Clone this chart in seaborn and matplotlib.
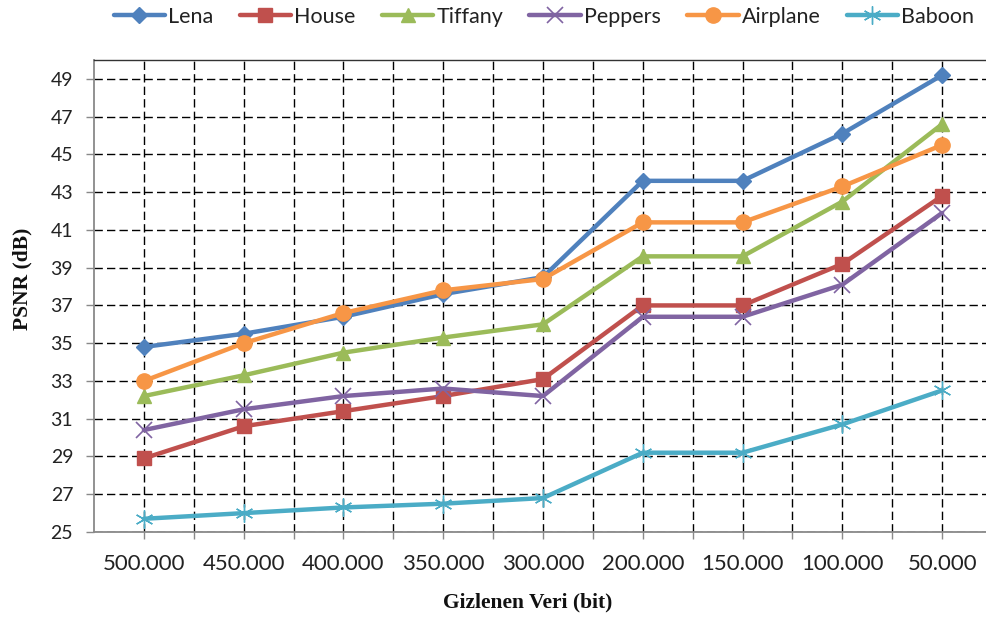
import matplotlib
matplotlib.use("Agg")
import matplotlib.pyplot as plt
import numpy as np
import pandas as pd
import seaborn as sns

# Hidden payload sizes (bits) along the horizontal axis
payload_labels = ["500.000", "450.000", "400.000", "350.000", "300.000",
                  "200.000", "150.000", "100.000", "50.000"]

# PSNR (dB) per test image
lena     = [34.8, 35.5, 36.4, 37.6, 38.5, 43.6, 43.6, 46.1, 49.2]
house    = [28.9, 30.6, 31.4, 32.2, 33.1, 37.0, 37.0, 39.2, 42.8]
tiffany  = [32.2, 33.3, 34.5, 35.3, 36.0, 39.6, 39.6, 42.5, 46.6]
peppers  = [30.4, 31.5, 32.2, 32.6, 32.2, 36.4, 36.4, 38.1, 41.9]
airplane = [33.0, 35.0, 36.6, 37.8, 38.4, 41.4, 41.4, 43.3, 45.5]
baboon   = [25.7, 26.0, 26.3, 26.5, 26.8, 29.2, 29.2, 30.7, 32.5]

series_names = ["Lena", "House", "Tiffany", "Peppers", "Airplane", "Baboon"]
series_values = [lena, house, tiffany, peppers, airplane, baboon]

colors = ["#4F81BD", "#C0504D", "#9BBB59", "#8064A2", "#F79646", "#4BACC6"]
marker_style = {
    "Lena":     dict(marker="D", markersize=8, mew=1.0),
    "House":    dict(marker="s", markersize=10, mew=1.0),
    "Tiffany":  dict(marker="^", markersize=10, mew=1.0),
    "Peppers":  dict(marker="x", markersize=12, mew=1.2),
    "Airplane": dict(marker="o", markersize=11, mew=1.0),
    "Baboon":   dict(marker=(6, 2, 0), markersize=13, mew=1.0),
}

positions = np.arange(len(payload_labels))
frame = pd.DataFrame({"pos": positions})
for name, vals in zip(series_names, series_values):
    frame[name] = vals

sns.set_theme(style="white")
plt.rcParams["font.family"] = ["Lato", "DejaVu Sans"]

fig = plt.figure(figsize=(9.87, 6.22), dpi=100)
ax = fig.add_axes([94 / 987, 1 - 532 / 622, 898 / 987, 472 / 622])

for name, color in zip(series_names, colors):
    st = marker_style[name]
    sns.lineplot(data=frame, x="pos", y=name, ax=ax, color=color, lw=3.2,
                 marker=st["marker"], markersize=st["markersize"],
                 mec=color, mfc=color, mew=st["mew"], label=name,
                 legend=False, zorder=3)

ax.set_xlim(-0.5, 8.5)
ax.set_ylim(25, 50)
ax.set_yticks(np.arange(25, 50, 2))
ax.set_xticks(positions)
ax.set_xticklabels(payload_labels)
ax.set_xticks(positions + 0.5, minor=True)

grid_kw = dict(color="black", lw=1.0, linestyle=(0, (6, 3)))
ax.grid(True, which="major", axis="both", **grid_kw)
ax.grid(True, which="minor", axis="x", **grid_kw)
ax.set_axisbelow(True)

ax.tick_params(axis="x", which="both", bottom=True, length=5, width=1,
               color="#898989", direction="out")
ax.tick_params(axis="x", which="major", labelsize=16, pad=11, labelcolor="#222222")
ax.tick_params(axis="y", left=True, length=6, width=1, color="#898989",
               labelsize=14, pad=9, labelcolor="#222222")

for side in ["left", "bottom"]:
    ax.spines[side].set_color("#898989")
    ax.spines[side].set_linewidth(1.3)
ax.spines["top"].set_color("#333333")
ax.spines["top"].set_linewidth(1.0)
ax.spines["right"].set_visible(False)

label_font = dict(family="Liberation Serif", weight="bold", size=15.5, color="#111111")
ax.set_xlabel("Gizlenen Veri (bit)", **label_font)
ax.set_ylabel("PSNR (dB)", **label_font)
ax.xaxis.set_label_coords((528 - 94) / 898, -(592 - 532) / 472)
ax.yaxis.set_label_coords(-(94 - 32) / 898, (532 - 279) / 472)

handles, labels = ax.get_legend_handles_labels()
fig.legend(handles, labels, loc="center", bbox_to_anchor=(544 / 987, 1 - 17 / 622),
           ncol=6, frameon=False, fontsize=15.5, handlelength=2.4,
           handletextpad=0.15, columnspacing=1.2, labelcolor="#222222")

fig.savefig("out.png", dpi=100, facecolor="white")
